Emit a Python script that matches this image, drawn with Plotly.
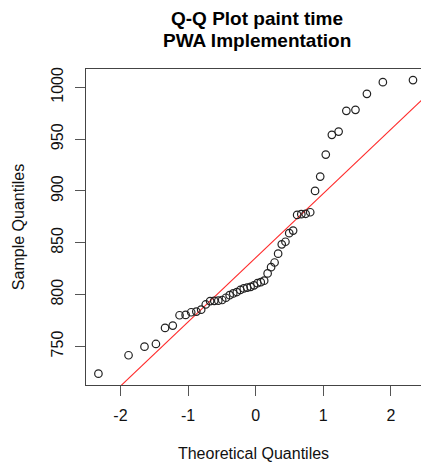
import numpy as np
import plotly.graph_objects as go
from statistics import NormalDist

# Sorted paint times (ms) for the PWA implementation, n = 50
paint_time = [
    723.7, 741.5, 749.8, 752.4, 767.9, 770.1, 780.1, 780.4, 783.0, 783.6,
    785.5, 790.5, 793.8, 794.0, 794.2, 794.8, 797.0, 799.5, 801.2, 802.5,
    804.5, 806.0, 806.8, 807.5, 809.0, 811.0, 812.0, 813.5, 820.5, 826.5,
    831.0, 839.5, 848.5, 851.0, 859.3, 861.8, 876.9, 877.6, 878.0, 879.5,
    900.1, 913.9, 935.1, 954.2, 957.3, 977.3, 978.3, 993.7, 1005.0, 1007.0,
]
x_ticks = [-2, -1, 0, 1, 2]
y_ticks = [750, 800, 850, 900, 950, 1000]
title_lines = ["Q-Q Plot paint time", "PWA Implementation"]

nd = NormalDist()
n = len(paint_time)
y = np.sort(np.array(paint_time))
# plotting positions as in R's ppoints() for n > 10
theo = np.array([nd.inv_cdf((i - 0.5) / n) for i in range(1, n + 1)])

# reference line through the first and third quartiles (qqline)
q1, q3 = np.quantile(y, [0.25, 0.75])
z1, z3 = nd.inv_cdf(0.25), nd.inv_cdf(0.75)
slope = (q3 - q1) / (z3 - z1)
intercept = q1 - slope * z1
line_x = np.array([-3.0, 3.0])
line_y = intercept + slope * line_x

FONT = "Liberation Sans, Arial, Helvetica, sans-serif"
H, T, B = 468, 69, 83
plot_h = H - T - B

fig = go.Figure()
fig.add_trace(go.Scatter(
    x=line_x, y=line_y, mode="lines",
    line=dict(color="#ff2a2a", width=1.1),
    hoverinfo="skip", showlegend=False,
))
fig.add_trace(go.Scatter(
    x=theo, y=y, mode="markers",
    marker=dict(symbol="circle-open", size=7.5, color="#222222",
                line=dict(width=1.2)),
    showlegend=False,
))

# two-line bold title, centred over the plotting region
for text, y_px in zip(title_lines, [18, 41]):
    fig.add_annotation(
        text=f"<b>{text}</b>", showarrow=False,
        xref="paper", x=0.51, xanchor="center",
        yref="paper", y=1 + (T - y_px) / plot_h, yanchor="middle",
        font=dict(family=FONT, size=19, color="#000000"),
    )

fig.update_layout(
    width=421, height=H,
    margin=dict(l=86, r=0, t=T, b=B),
    paper_bgcolor="white", plot_bgcolor="white",
    font=dict(family=FONT, size=16, color="#111111"),
)
fig.update_xaxes(
    range=[-2.51, 2.445], tickvals=x_ticks, ticktext=[str(v) for v in x_ticks],
    showgrid=False, zeroline=False,
    showline=True, mirror=True, linecolor="#444444", linewidth=1,
    ticks="outside", ticklen=10, tickcolor="#555555", tickwidth=1,
    ticklabelstandoff=6,
    title=dict(text="Theoretical Quantiles", standoff=24,
               font=dict(family=FONT, size=16)),
)
fig.update_yaxes(
    range=[712.8, 1017.7], tickvals=y_ticks, ticktext=[str(v) for v in y_ticks],
    tickangle=-90,
    showgrid=False, zeroline=False,
    showline=True, mirror=False, linecolor="#444444", linewidth=1,
    ticks="outside", ticklen=10, tickcolor="#555555", tickwidth=1,
    ticklabelstandoff=6,
    title=dict(text="Sample Quantiles", standoff=19,
               font=dict(family=FONT, size=16)),
)

fig.write_html("out.html")
